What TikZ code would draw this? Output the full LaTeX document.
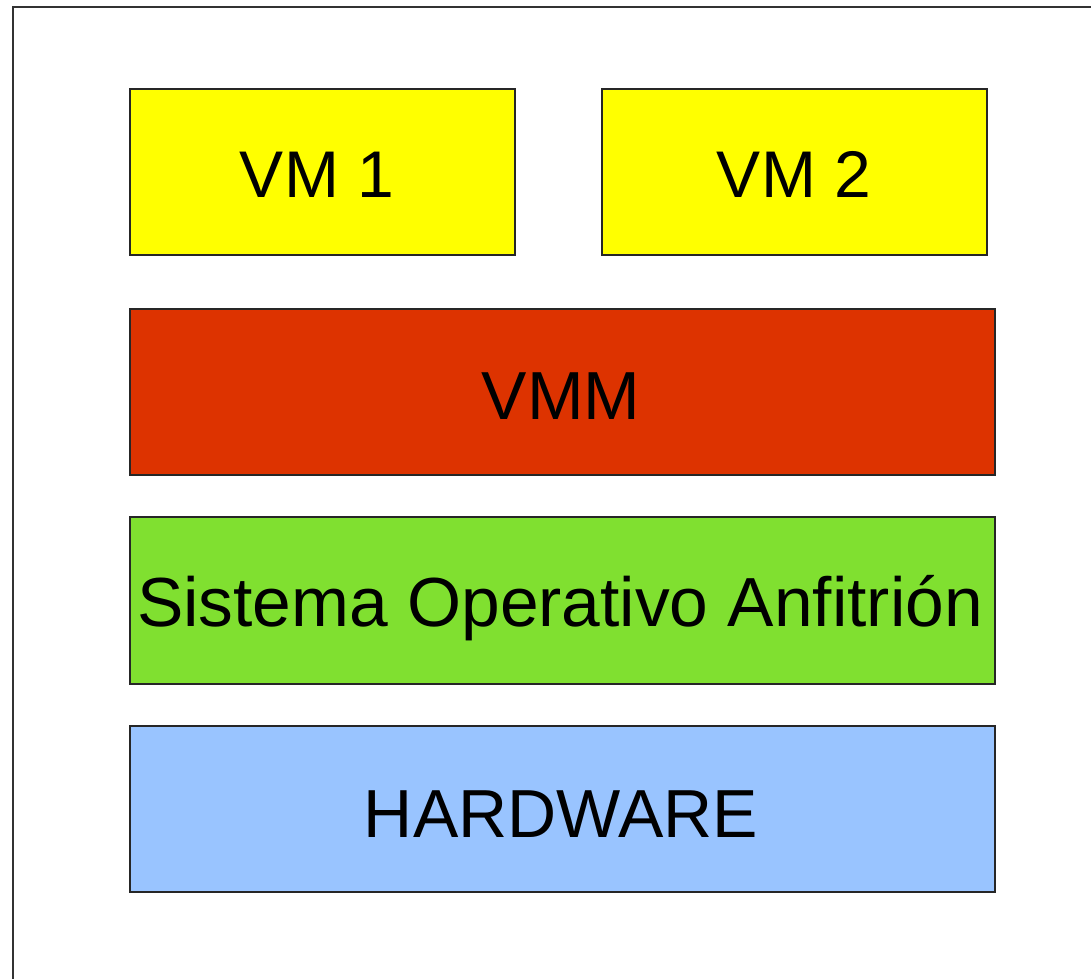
\documentclass[tikz,border=0pt]{standalone}
\usepackage{fontspec}
\setmainfont{Liberation Sans}
\definecolor{vmyellow}{HTML}{FFFF00}
\definecolor{vmmred}{HTML}{DD3300}
\definecolor{osgreen}{HTML}{80E030}
\definecolor{hwblue}{HTML}{99C4FF}
\definecolor{framegray}{HTML}{333333}
\tikzset{
  layer/.style={draw=black!85, line width=1.3pt, inner sep=0pt},
  lbl/.style={font=\fontsize{68}{72}\selectfont, text height=48pt, text depth=0pt, inner sep=0pt, text=black}
}
\begin{document}
\begin{tikzpicture}[x=1pt,y=-1pt]
\useasboundingbox (0,0) rectangle (1091,978);
\draw[framegray, line width=2.5pt] (13,990) -- (13,7) -- (1100,7);
% boxes
\path[layer, fill=vmyellow] (130,89) rectangle (515,255);
\path[layer, fill=vmyellow] (602,89) rectangle (987,255);
\path[layer, fill=vmmred] (130,309) rectangle (995,475);
\path[layer, fill=osgreen] (130,517) rectangle (995,684);
\path[layer, fill=hwblue] (130,726) rectangle (995,892);
\node[lbl, font=\fontsize{66}{70}\selectfont] (vm1) at (317,173) {VM 1};
\node[lbl, font=\fontsize{66}{70}\selectfont] (vm2) at (794,173) {VM 2};
\node[lbl] (vmm) at (561,395) {VMM};
\node[lbl, font=\fontsize{69.5}{72}\selectfont] (os) at (560,602) {Sistema Operativo Anfitrión};
\node[lbl] (hw) at (561,813) {HARDWARE};
\end{tikzpicture}
\end{document}
